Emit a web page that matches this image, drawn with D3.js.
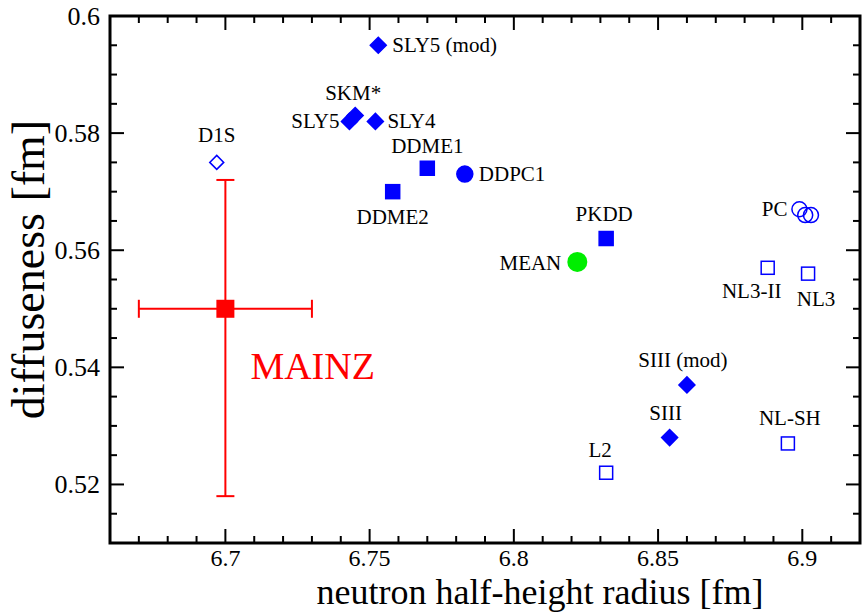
<!DOCTYPE html>
<html><head><meta charset="utf-8">
<script src="https://cdn.jsdelivr.net/npm/d3@7"></script>
<style>body{margin:0;background:#fff}text{font-family:"Liberation Serif","Times New Roman",serif}</style>
</head><body><div id="chart"></div>
<script>
// [name, radius, diffuseness, shape, filled, label dx, label dy, anchor]
const models = [
  ['SLY5 (mod)', 6.753, 0.595, 'diamond', true, 14, 7, 'start'],
  ['SKM*', 6.745, 0.583, 'diamond', true, -2, -16, 'middle'],
  ['SLY5', 6.743, 0.582, 'diamond', true, -10, 7, 'end'],
  ['SLY4', 6.752, 0.582, 'diamond', true, 12, 7, 'start'],
  ['D1S', 6.697, 0.575, 'diamond', false, 0, -20, 'middle'],
  ['DDME1', 6.770, 0.574, 'square', true, 0, -15, 'middle'],
  ['DDPC1', 6.783, 0.573, 'circle', true, 14, 7, 'start'],
  ['DDME2', 6.758, 0.570, 'square', true, 0, 32, 'middle'],
  ['PKDD', 6.832, 0.562, 'square', true, -2, -18, 'middle'],
  ['PC', 6.899, 0.567, 'ocircle', false, -12, 7, 'end'],
  ['', 6.901, 0.566, 'ocircle', false, 0, 0, 'start'],
  ['', 6.903, 0.566, 'ocircle', false, 0, 0, 'start'],
  ['NL3-II', 6.888, 0.557, 'square', false, -16, 30, 'middle'],
  ['NL3', 6.902, 0.556, 'square', false, 8, 32, 'middle'],
  ['SIII (mod)', 6.860, 0.537, 'diamond', true, -4, -18, 'middle'],
  ['SIII', 6.854, 0.528, 'diamond', true, -4, -18, 'middle'],
  ['L2', 6.832, 0.522, 'square', false, -6, -16, 'middle'],
  ['NL-SH', 6.895, 0.527, 'square', false, 2, -18, 'middle']
];
const mean = [6.822, 0.558];
const mainz = {x: 6.70, y: 0.550, ex: 0.03, eyUp: 0.022, eyDown: 0.032};
const xDomain = [6.66, 6.92];
const yDomain = [0.51, 0.60];
const xLabels = [6.7, 6.75, 6.8, 6.85, 6.9];
const yLabels = [0.52, 0.54, 0.56, 0.58, 0.6];

const width = 862, height = 614;
const margin = {top: 16, right: 2, bottom: 71, left: 110};
const iw = width - margin.left - margin.right, ih = height - margin.top - margin.bottom;

const svg = d3.select('#chart').append('svg').attr('width', width).attr('height', height);
const g = svg.append('g').attr('transform', `translate(${margin.left},${margin.top})`);
const x = d3.scaleLinear().domain(xDomain).range([0, iw]);
const y = d3.scaleLinear().domain(yDomain).range([ih, 0]);

const xMinor = d3.range(6.66, 6.9201, 0.01);
const yMinor = d3.range(0.51, 0.6001, 0.005);
const fmt = d => String(+d.toFixed(3));

// ticks on all four sides, pointing inward
function ticks(vals, major, isX) {
  vals.forEach(v => {
    const isMajor = major.some(m => Math.abs(m - v) < 1e-6);
    const len = isMajor ? 14 : 7;
    if (isX) {
      const px = x(v);
      g.append('line').attr('x1', px).attr('x2', px).attr('y1', ih).attr('y2', ih - len);
      g.append('line').attr('x1', px).attr('x2', px).attr('y1', 0).attr('y2', len);
    } else {
      const py = y(v);
      g.append('line').attr('y1', py).attr('y2', py).attr('x1', 0).attr('x2', len);
      g.append('line').attr('y1', py).attr('y2', py).attr('x1', iw).attr('x2', iw - len);
    }
  });
}
ticks(xMinor, xLabels, true);
ticks(yMinor, yLabels, false);
g.selectAll('line').attr('stroke', '#000').attr('stroke-width', 2);
g.append('rect').attr('width', iw).attr('height', ih).attr('fill', 'none').attr('stroke', '#000').attr('stroke-width', 3);

g.selectAll('.xl').data(xLabels).enter().append('text')
  .attr('x', d => x(d)).attr('y', ih + 23).attr('text-anchor', 'middle').attr('font-size', 24).text(fmt);
g.selectAll('.yl').data(yLabels).enter().append('text')
  .attr('x', -10).attr('y', d => y(d) + 9).attr('text-anchor', 'end').attr('font-size', 26).text(fmt);
svg.append('text').attr('x', 540).attr('y', 604).attr('text-anchor', 'middle')
  .attr('font-size', 36).text('neutron half-height radius [fm]');
svg.append('text').attr('transform', `translate(44,${margin.top + ih / 2 - 10}) rotate(-90)`)
  .attr('text-anchor', 'middle').attr('font-size', 46).text('diffuseness [fm]');

// MAINZ error bars
const red = '#ff0000';
const eb = g.append('g').attr('stroke', red).attr('stroke-width', 2);
const yLo = mainz.y - mainz.eyDown, yHi = mainz.y + mainz.eyUp;
eb.append('line').attr('x1', x(mainz.x - mainz.ex)).attr('x2', x(mainz.x + mainz.ex)).attr('y1', y(mainz.y)).attr('y2', y(mainz.y));
eb.append('line').attr('x1', x(mainz.x)).attr('x2', x(mainz.x)).attr('y1', y(yLo)).attr('y2', y(yHi));
[mainz.x - mainz.ex, mainz.x + mainz.ex].forEach(v =>
  eb.append('line').attr('x1', x(v)).attr('x2', x(v)).attr('y1', y(mainz.y) - 9).attr('y2', y(mainz.y) + 9));
[yLo, yHi].forEach(v =>
  eb.append('line').attr('x1', x(mainz.x) - 9).attr('x2', x(mainz.x) + 9).attr('y1', y(v)).attr('y2', y(v)));
g.append('rect').attr('x', x(mainz.x) - 9).attr('y', y(mainz.y) - 9).attr('width', 18).attr('height', 18).attr('fill', red);
g.append('text').attr('x', x(mainz.x) + 25).attr('y', y(mainz.y) + 70).attr('fill', red).attr('font-size', 38).text('MAINZ');

// model points
const blue = '#0000ff';
models.forEach(([name, mx, my, shape, filled, dx, dy, anchor]) => {
  const px = x(mx), py = y(my);
  const fill = filled ? blue : '#fff';
  if (shape === 'diamond') {
    const r = filled ? 8 : 7;
    g.append('path').attr('d', `M${px},${py - r}L${px + r},${py}L${px},${py + r}L${px - r},${py}Z`)
      .attr('fill', fill).attr('stroke', blue).attr('stroke-width', 1.5);
  } else if (shape === 'square') {
    const s = filled ? 14 : 13;
    g.append('rect').attr('x', px - s / 2).attr('y', py - s / 2).attr('width', s).attr('height', s)
      .attr('fill', fill).attr('stroke', blue).attr('stroke-width', 1.5);
  } else {
    g.append('circle').attr('cx', px).attr('cy', py).attr('r', shape === 'circle' ? 8 : 7.5)
      .attr('fill', shape === 'circle' ? blue : 'none').attr('stroke', blue).attr('stroke-width', 1.5);
  }
  if (name) g.append('text').attr('x', px + dx).attr('y', py + dy).attr('text-anchor', anchor)
    .attr('font-size', 21).text(name);
});

g.append('circle').attr('cx', x(mean[0])).attr('cy', y(mean[1])).attr('r', 10).attr('fill', '#00ee00');
g.append('text').attr('x', x(mean[0]) - 16).attr('y', y(mean[1]) + 8).attr('text-anchor', 'end')
  .attr('font-size', 21).text('MEAN');
</script></body></html>
